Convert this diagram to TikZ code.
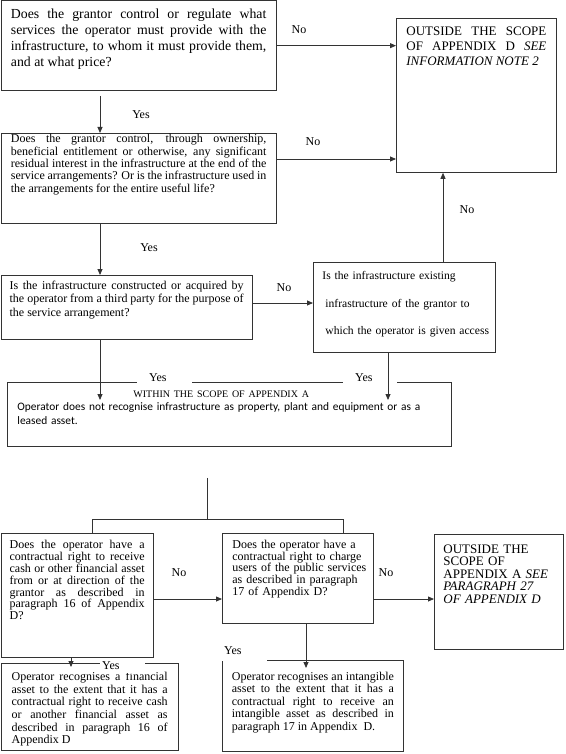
\documentclass[tikz,border=0pt]{standalone}
\usepackage{fontspec}
\setmainfont{Liberation Serif}
\newfontfamily\calibri{Carlito}
\usepackage{xcolor}
\usetikzlibrary{arrows.meta,positioning,calc}
\definecolor{pline}{HTML}{333333}
\lineskiplimit=-\maxdimen
\hyphenpenalty=10000
\exhyphenpenalty=10000
\emergencystretch=20pt

\begin{document}
\begin{tikzpicture}[x=1pt,y=-1pt,
    flow/.style={draw=pline,line width=0.8pt,anchor=north west,inner ysep=0pt,align=justify},
    yesno/.style={font=\fontsize{12}{14}\selectfont,inner sep=1pt},
    cover/.style={yesno,fill=white,anchor=west,align=left,inner xsep=0pt},
    >={Triangle[length=6pt,width=5pt]}]
  \useasboundingbox (0,0) rectangle (565,754);

  % questions on the left
  \node[flow,inner xsep=10pt,text width=255.5pt,text height=18pt,text depth=71.5pt,
        font=\fontsize{13.8}{15.8}\selectfont] (q1) at (0.5,0.5)
    {Does the grantor control or regulate what services the operator must provide with the infrastructure, to whom it must provide them, and at what price?};
  \node[flow,inner xsep=10pt,text width=255.5pt,text height=9.5pt,text depth=80.5pt,
        font=\fontsize{12}{12.3}\selectfont] (q2) at (0.5,133)
    {\parfillskip=0pt\relax Does the grantor control, through ownership, beneficial entitlement or otherwise, any significant residual interest in the infrastructure at the end of the service arrangements? Or is the infrastructure used in the arrangements for the entire useful life?};
  \node[flow,inner xsep=8.75pt,text width=234pt,text height=14pt,text depth=50pt,
        font=\fontsize{12}{13.5}\selectfont] (q3) at (0.5,275)
    {Is the infrastructure constructed or acquired by the operator from a third party for the purpose of the service arrangement?};
  \node[flow,align=left,inner xsep=5pt,text width=172pt,text height=17pt,text depth=73pt,
        font=\fontsize{11.6}{27.7}\selectfont] (q4) at (313,262)
    {\hspace*{4pt}Is the infrastructure existing\\\hspace*{7pt}infrastructure of the grantor to\\\hspace*{7pt}which the operator is given access};

  % outside the scope
  \node[flow,inner xsep=10pt,text width=140pt,text height=17pt,text depth=137pt,
        font=\fontsize{13}{15}\selectfont] (out1) at (396,18)
    {OUTSIDE THE SCOPE OF APPENDIX D \textit{SEE INFORMATION NOTE 2}};

  % within the scope
  \node[flow,align=left,inner xsep=10pt,text width=424pt,text height=15pt,text depth=49pt,
        font=\calibri\fontsize{11.4}{13.5}\selectfont] (scopeA) at (7,382)
    {\hspace*{116pt}{\rmfamily\fontsize{10}{13.5}\selectfont WITHIN THE SCOPE OF APPENDIX A}\\
     Operator does not recognise infrastructure as property, plant and equipment or as a leased asset.};

  % lower row
  \node[flow,inner xsep=8.75pt,text width=135pt,text height=15pt,text depth=109pt,
        font=\fontsize{12}{11.9}\selectfont] (q5) at (0.5,533)
    {Does the operator have a contractual right to receive cash or other financial asset from or at direction of the grantor as described in paragraph 16 of Appendix D?};
  \node[flow,align=left,inner xsep=5pt,text width=141pt,text height=15pt,text depth=75pt,
        font=\fontsize{12}{11.7}\selectfont] (q6) at (222,533)
    {\hspace*{5pt}Does the operator have a\\\hspace*{5pt}contractual right to charge\\\hspace*{5pt}users of the public services\\\hspace*{5pt}as described in paragraph\\\hspace*{5pt}17 of Appendix D?};
  \node[flow,align=left,inner xsep=9pt,text width=111pt,text height=19pt,text depth=96pt,
        font=\fontsize{13}{12.5}\selectfont] (out2) at (434,534)
    {OUTSIDE THE\\SCOPE OF\\APPENDIX A \textit{SEE}\\\textit{PARAGRAPH 27}\\\textit{OF APPENDIX D}};
  \node[flow,inner xsep=10.75pt,text width=156pt,text height=17pt,text depth=70pt,
        font=\fontsize{12}{12.7}\selectfont] (a1) at (0.5,663)
    {Operator recognises a financial\linebreak asset to the extent that it has a\linebreak contractual right to receive cash\linebreak or another financial asset as\linebreak described in paragraph 16 of\linebreak Appendix D};
  \node[flow,inner xsep=9.5pt,text width=162pt,text height=20pt,text depth=71pt,
        font=\fontsize{12}{12.5}\selectfont] (a2) at (222,660)
    {Operator recognises an intangible\linebreak asset to the extent that it has a\linebreak contractual right to receive an\linebreak intangible asset as described in\linebreak paragraph 17 in Appendix\ \ D.};

  % labels sitting on the box edges
  \node[cover,text width=55pt,text height=9pt,text depth=3pt,inner ysep=1pt] (yesA) at (137,378) {\hspace*{12pt}Yes};
  \node[cover,text width=54pt,text height=9pt,text depth=3pt,inner ysep=1pt] (yesB) at (343,378) {\hspace*{12pt}Yes};
  \node[cover,text width=45pt,text height=9pt,text depth=2pt,inner ysep=1pt] (yesC) at (100,666) {\hspace*{2pt}Yes};
  \node[cover,text width=45pt,text height=9pt,text depth=6pt,inner ysep=1pt] (yesD) at (222,652.5) {\hspace*{2pt}Yes};

  % other labels
  \node[yesno] (yes1) at (141,115) {Yes};
  \node[yesno] (yes2) at (149,248) {Yes};
  \node[yesno] (no1) at (299,30) {No};
  \node[yesno] (no2) at (313,142) {No};
  \node[yesno] (no3) at (284,288) {No};
  \node[yesno] (no4) at (467,210) {No};
  \node[yesno] (no5) at (179,573) {No};
  \node[yesno] (no6) at (386,573) {No};

  % connectors
  \draw[->,pline,line width=0.8pt] (q1.east) -- (q1.east -| out1.west);
  \draw[->,pline,line width=0.8pt] ([yshift=-26pt]q2.north east) coordinate (n2) -- (n2 -| out1.west);
  \draw[->,pline,line width=0.8pt] ([xshift=99.5pt,yshift=-5pt]q1.south west) -- ([xshift=99.5pt]q2.north west);
  \draw[->,pline,line width=0.8pt] ([xshift=99.5pt]q2.south west) -- ([xshift=99.5pt]q3.north west);
  \draw[->,pline,line width=0.8pt] ([yshift=-28pt]q3.north east) coordinate (n3) -- (n3 -| q4.west);
  \draw[->,pline,line width=0.8pt] ([xshift=130pt]q4.north west) coordinate (n4) -- (n4 |- out1.south);
  \draw[->,pline,line width=0.8pt] ([xshift=99.5pt]q3.south west) -- ([xshift=93pt,yshift=-18pt]scopeA.north west);
  \draw[->,pline,line width=0.8pt] ([xshift=75pt]q4.south west) -- ([xshift=381pt,yshift=-18pt]scopeA.north west);
  \coordinate (split) at ([xshift=200pt,yshift=-31pt]scopeA.south west);
  \coordinate (fork) at ([yshift=-42pt]split);
  \draw[pline,line width=0.8pt] (split) -- (fork);
  \draw[pline,line width=0.8pt] ([xshift=91.5pt]q5.north west) |- (fork) -| ([xshift=121pt]q6.north west);
  \draw[->,pline,line width=0.8pt] ([yshift=-66pt]q5.north east) coordinate (n5) -- (n5 -| q6.west);
  \draw[->,pline,line width=0.8pt] ([yshift=-66pt]q6.north east) coordinate (n6) -- (n6 -| out2.west);
  \draw[->,pline,line width=0.8pt] ([xshift=84pt]q6.south west) -- ([xshift=84pt,yshift=-8pt]a2.north west);
  \draw[->,pline,line width=0.8pt] ([xshift=70.5pt]q5.south west) -- ([xshift=70.5pt,yshift=-4pt]a1.north west);
\end{tikzpicture}
\end{document}
